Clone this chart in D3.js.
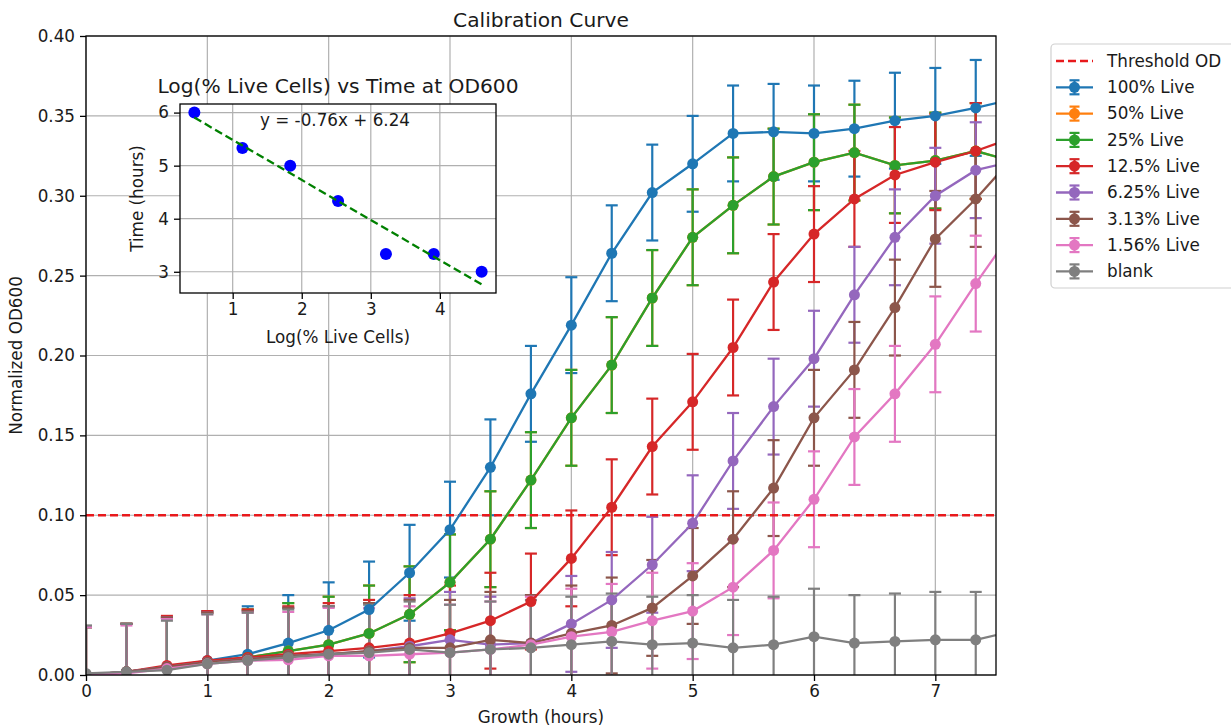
<!DOCTYPE html>
<html>
<head>
<meta charset="utf-8">
<script src="https://cdn.jsdelivr.net/npm/d3@7"></script>
<style>
  html, body { margin: 0; padding: 0; background: #fff; }
  svg { display: block; font-family: "DejaVu Sans", sans-serif; }
</style>
</head>
<body>
<svg id="chart" width="1231" height="727"></svg>
<script>
// ---------------- DATA ----------------
const times = [0, 0.333, 0.667, 1, 1.333, 1.667, 2, 2.333, 2.667, 3, 3.333, 3.667,
               4, 4.333, 4.667, 5, 5.333, 5.667, 6, 6.333, 6.667, 7, 7.333, 7.667];

const seriesNames = ["100% Live", "50% Live", "25% Live", "12.5% Live", "6.25% Live", "3.13% Live", "1.56% Live", "blank"];
const seriesColors = ["#1f77b4", "#ff7f0e", "#2ca02c", "#d62728", "#9467bd", "#8c564b", "#e377c2", "#7f7f7f"];

const live100 = [0.000, 0.002, 0.005, 0.009, 0.013, 0.020, 0.028, 0.041, 0.064, 0.091, 0.130, 0.176,
                 0.219, 0.264, 0.302, 0.320, 0.339, 0.340, 0.339, 0.342, 0.347, 0.350, 0.355, 0.361];
const live50  = [0.000, 0.002, 0.005, 0.008, 0.011, 0.015, 0.019, 0.026, 0.038, 0.058, 0.085, 0.122,
                 0.161, 0.194, 0.236, 0.274, 0.294, 0.312, 0.321, 0.327, 0.319, 0.322, 0.328, 0.321];
const live25  = [0.000, 0.002, 0.005, 0.008, 0.011, 0.015, 0.019, 0.026, 0.038, 0.058, 0.085, 0.122,
                 0.161, 0.194, 0.236, 0.274, 0.294, 0.312, 0.321, 0.327, 0.319, 0.322, 0.328, 0.321];
const live12  = [0.000, 0.002, 0.006, 0.009, 0.011, 0.013, 0.015, 0.017, 0.020, 0.026, 0.034, 0.046,
                 0.073, 0.105, 0.143, 0.171, 0.205, 0.246, 0.276, 0.298, 0.313, 0.321, 0.328, 0.337];
const live6   = [0.000, 0.002, 0.005, 0.008, 0.010, 0.012, 0.013, 0.015, 0.018, 0.022, 0.019, 0.020,
                 0.032, 0.047, 0.069, 0.095, 0.134, 0.168, 0.198, 0.238, 0.274, 0.300, 0.316, 0.322];
const live3   = [0.000, 0.002, 0.005, 0.008, 0.010, 0.012, 0.013, 0.015, 0.017, 0.017, 0.022, 0.020,
                 0.026, 0.031, 0.042, 0.062, 0.085, 0.117, 0.161, 0.191, 0.230, 0.273, 0.298, 0.326];
const live1   = [0.000, 0.001, 0.004, 0.007, 0.009, 0.0095, 0.012, 0.012, 0.013, 0.014, 0.016, 0.019,
                 0.024, 0.027, 0.034, 0.040, 0.055, 0.078, 0.110, 0.149, 0.176, 0.207, 0.245, 0.281];
const blank   = [0.001, 0.002, 0.003, 0.007, 0.009, 0.011, 0.013, 0.014, 0.016, 0.014, 0.016, 0.017,
                 0.019, 0.021, 0.019, 0.020, 0.017, 0.019, 0.024, 0.020, 0.021, 0.022, 0.022, 0.028];
const errBar  = [0.030, 0.030, 0.031, 0.031, 0.030, 0.030, 0.030, 0.030, 0.030, 0.030, 0.030, 0.030,
                 0.030, 0.030, 0.030, 0.030, 0.030, 0.030, 0.030, 0.030, 0.030, 0.030, 0.030, 0.030];
const seriesValues = [live100, live50, live25, live12, live6, live3, live1, blank];

const thresholdOD = 0.10;
const xTicks = [0, 1, 2, 3, 4, 5, 6, 7];
const yTicks = [0, 0.05, 0.10, 0.15, 0.20, 0.25, 0.30, 0.35, 0.40];

// inset data
const logLive = [0.445, 1.141, 1.833, 2.526, 3.219, 3.912, 4.605];
const timeAtOD = [6.0, 5.333, 5.0, 4.333, 3.333, 3.333, 3.0];
const insetXTicks = [1, 2, 3, 4];
const insetYTicks = [3, 4, 5, 6];
const equationText = "y = -0.76x + 6.24";

// ---------------- LAYOUT ----------------
const svg = d3.select("#chart");
const FS = 16.8;
const TXT = "#1a1a1a";
const plot = {l: 86, t: 36, r: 996, b: 675};
const x = d3.scaleLinear().domain([0, 7.5]).range([plot.l, plot.r]);
const y = d3.scaleLinear().domain([0, 0.40]).range([plot.b, plot.t]);

svg.append("rect").attr("width", 1231).attr("height", 727).attr("fill", "#fff");

// grid
const grid = svg.append("g");
grid.selectAll(".gx").data(xTicks).join("line")
  .attr("x1", d => x(d)).attr("x2", d => x(d)).attr("y1", plot.t).attr("y2", plot.b)
  .attr("stroke", "#b0b0b0").attr("stroke-width", 1.2);
grid.selectAll(".gy").data(yTicks).join("line")
  .attr("y1", d => y(d)).attr("y2", d => y(d)).attr("x1", plot.l).attr("x2", plot.r)
  .attr("stroke", "#b0b0b0").attr("stroke-width", 1.2);

// clip
svg.append("clipPath").attr("id", "clipMain").append("rect")
  .attr("x", plot.l).attr("y", plot.t).attr("width", plot.r - plot.l).attr("height", plot.b - plot.t);

const content = svg.append("g").attr("clip-path", "url(#clipMain)");
const capHalf = 6;
const lineGen = d3.line().x((d, i) => x(times[i])).y(d => y(d));

// error bars and caps (drawn below all data lines, like matplotlib)
const errLayer = content.append("g");
seriesValues.forEach((vals, si) => {
  const col = seriesColors[si];
  const g = errLayer.append("g");
  g.selectAll(".eb").data(vals).join("line")
    .attr("x1", (d, i) => x(times[i])).attr("x2", (d, i) => x(times[i]))
    .attr("y1", (d, i) => y(d - errBar[i])).attr("y2", (d, i) => y(d + errBar[i]))
    .attr("stroke", col).attr("stroke-width", 2.2);
  ["lo", "hi"].forEach(side => {
    g.selectAll(".cap" + side).data(vals).join("line")
      .attr("x1", (d, i) => x(times[i]) - capHalf).attr("x2", (d, i) => x(times[i]) + capHalf)
      .attr("y1", (d, i) => y(side === "hi" ? d + errBar[i] : d - errBar[i]))
      .attr("y2", (d, i) => y(side === "hi" ? d + errBar[i] : d - errBar[i]))
      .attr("stroke", col).attr("stroke-width", 2.2);
  });
});

// threshold
content.append("line")
  .attr("x1", plot.l).attr("x2", plot.r).attr("y1", y(thresholdOD)).attr("y2", y(thresholdOD))
  .attr("stroke", "#e8191c").attr("stroke-width", 2.3).attr("stroke-dasharray", "8,4");

// data lines + markers
seriesValues.forEach((vals, si) => {
  const col = seriesColors[si];
  const g = content.append("g");
  g.append("path").datum(vals).attr("d", lineGen)
    .attr("fill", "none").attr("stroke", col).attr("stroke-width", 2.3);
  g.selectAll("circle").data(vals).join("circle")
    .attr("cx", (d, i) => x(times[i])).attr("cy", d => y(d)).attr("r", 5.5)
    .attr("fill", col);
});

// spines
svg.append("rect").attr("x", plot.l).attr("y", plot.t)
  .attr("width", plot.r - plot.l).attr("height", plot.b - plot.t)
  .attr("fill", "none").attr("stroke", "#000").attr("stroke-width", 1.3);

// axes
const xAxis = svg.append("g").attr("transform", `translate(0,${plot.b})`)
  .call(d3.axisBottom(x).tickValues(xTicks).tickFormat(d3.format("d")).tickSize(6).tickPadding(4));
const yAxis = svg.append("g").attr("transform", `translate(${plot.l},0)`)
  .call(d3.axisLeft(y).tickValues(yTicks).tickFormat(d3.format(".2f")).tickSize(6).tickPadding(5));
[xAxis, yAxis].forEach(a => {
  a.select(".domain").remove();
  a.selectAll(".tick line").attr("stroke", "#000").attr("stroke-width", 1.3);
  a.selectAll(".tick text").attr("font-size", FS).attr("fill", TXT).attr("font-family", "DejaVu Sans");
});

// titles & labels
svg.append("text").attr("x", (plot.l + plot.r) / 2).attr("y", 27).attr("text-anchor", "middle")
  .attr("font-size", 20.2).attr("fill", TXT).text("Calibration Curve");
svg.append("text").attr("x", (plot.l + plot.r) / 2).attr("y", 723).attr("text-anchor", "middle")
  .attr("font-size", FS).attr("fill", TXT).text("Growth (hours)");
svg.append("text").attr("transform", `translate(22,${(plot.t + plot.b) / 2}) rotate(-90)`)
  .attr("text-anchor", "middle").attr("font-size", FS).attr("fill", TXT).text("Normalized OD600");

// ---------------- INSET ----------------
const ins = {l: 180, t: 104, r: 496, b: 293};
// fit from data (least squares)
const mx = d3.mean(logLive), my = d3.mean(timeAtOD);
const slope = d3.sum(logLive, (v, i) => (v - mx) * (timeAtOD[i] - my)) / d3.sum(logLive, v => (v - mx) * (v - mx));
const intercept = my - slope * mx;
const xExt = d3.extent(logLive);
const fitYs = xExt.map(v => slope * v + intercept);
const yAll = timeAtOD.concat(fitYs);
const yExt = d3.extent(yAll);
const padX = (xExt[1] - xExt[0]) * 0.05, padY = (yExt[1] - yExt[0]) * 0.05;
const ix = d3.scaleLinear().domain([xExt[0] - padX, xExt[1] + padX]).range([ins.l, ins.r]);
const iy = d3.scaleLinear().domain([yExt[0] - padY, yExt[1] + padY]).range([ins.b, ins.t]);

const ig = svg.append("g");
ig.append("rect").attr("x", ins.l).attr("y", ins.t).attr("width", ins.r - ins.l).attr("height", ins.b - ins.t)
  .attr("fill", "#fff");
ig.selectAll(".igx").data(insetXTicks).join("line")
  .attr("x1", d => ix(d)).attr("x2", d => ix(d)).attr("y1", ins.t).attr("y2", ins.b)
  .attr("stroke", "#b0b0b0").attr("stroke-width", 1.2);
ig.selectAll(".igy").data(insetYTicks).join("line")
  .attr("y1", d => iy(d)).attr("y2", d => iy(d)).attr("x1", ins.l).attr("x2", ins.r)
  .attr("stroke", "#b0b0b0").attr("stroke-width", 1.2);

svg.append("clipPath").attr("id", "clipInset").append("rect")
  .attr("x", ins.l).attr("y", ins.t).attr("width", ins.r - ins.l).attr("height", ins.b - ins.t);
const ic = ig.append("g").attr("clip-path", "url(#clipInset)");
ic.selectAll("circle").data(logLive).join("circle")
  .attr("cx", d => ix(d)).attr("cy", (d, i) => iy(timeAtOD[i])).attr("r", 6).attr("fill", "#0000ff");
ic.append("line")
  .attr("x1", ix(xExt[0])).attr("y1", iy(fitYs[0])).attr("x2", ix(xExt[1])).attr("y2", iy(fitYs[1]))
  .attr("stroke", "#008000").attr("stroke-width", 2.3).attr("stroke-dasharray", "8,4");

ig.append("rect").attr("x", ins.l).attr("y", ins.t).attr("width", ins.r - ins.l).attr("height", ins.b - ins.t)
  .attr("fill", "none").attr("stroke", "#000").attr("stroke-width", 1.3);

const ixAxis = ig.append("g").attr("transform", `translate(0,${ins.b})`)
  .call(d3.axisBottom(ix).tickValues(insetXTicks).tickFormat(d3.format("d")).tickSize(6).tickPadding(4));
const iyAxis = ig.append("g").attr("transform", `translate(${ins.l},0)`)
  .call(d3.axisLeft(iy).tickValues(insetYTicks).tickFormat(d3.format("d")).tickSize(6).tickPadding(5));
[ixAxis, iyAxis].forEach(a => {
  a.select(".domain").remove();
  a.selectAll(".tick line").attr("stroke", "#000").attr("stroke-width", 1.3);
  a.selectAll(".tick text").attr("font-size", FS).attr("fill", TXT).attr("font-family", "DejaVu Sans");
});

ig.append("text").attr("x", ins.l + (ins.r - ins.l) * 0.253).attr("y", ins.t + 22)
  .attr("font-size", FS).attr("fill", TXT).text(equationText);
ig.append("text").attr("x", (ins.l + ins.r) / 2).attr("y", 93).attr("text-anchor", "middle")
  .attr("font-size", 20.2).attr("fill", TXT).text("Log(% Live Cells) vs Time at OD600");
ig.append("text").attr("x", (ins.l + ins.r) / 2).attr("y", 343).attr("text-anchor", "middle")
  .attr("font-size", FS).attr("fill", TXT).text("Log(% Live Cells)");
ig.append("text").attr("transform", `translate(143,${(ins.t + ins.b) / 2}) rotate(-90)`)
  .attr("text-anchor", "middle").attr("font-size", FS).attr("fill", TXT).text("Time (hours)");

// ---------------- LEGEND ----------------
const lg = svg.append("g");
lg.append("rect").attr("x", 1051).attr("y", 44).attr("width", 200).attr("height", 244).attr("rx", 4)
  .attr("fill", "#fff").attr("stroke", "#d0d0d0").attr("stroke-width", 1.2);
const legItems = [{name: "Threshold OD", color: "#e8191c", dashed: true}]
  .concat(seriesNames.map((n, i) => ({name: n, color: seriesColors[i], dashed: false})));
const ly0 = 61, lstep = 26.3, hx0 = 1056, hx1 = 1093;
legItems.forEach((it, k) => {
  const yy = ly0 + k * lstep;
  const gI = lg.append("g");
  if (it.dashed) {
    gI.append("line").attr("x1", hx0).attr("x2", hx1).attr("y1", yy).attr("y2", yy)
      .attr("stroke", it.color).attr("stroke-width", 2.3).attr("stroke-dasharray", "8,4");
  } else {
    const cx = (hx0 + hx1) / 2;
    gI.append("line").attr("x1", cx).attr("x2", cx).attr("y1", yy - 7).attr("y2", yy + 7)
      .attr("stroke", it.color).attr("stroke-width", 2.2);
    [yy - 7, yy + 7].forEach(cy => gI.append("line").attr("x1", cx - 5).attr("x2", cx + 5)
      .attr("y1", cy).attr("y2", cy).attr("stroke", it.color).attr("stroke-width", 2.2));
    gI.append("line").attr("x1", hx0).attr("x2", hx1).attr("y1", yy).attr("y2", yy)
      .attr("stroke", it.color).attr("stroke-width", 2.3);
    gI.append("circle").attr("cx", cx).attr("cy", yy).attr("r", 5.5).attr("fill", it.color);
  }
  gI.append("text").attr("x", 1107).attr("y", yy).attr("dy", "0.35em")
    .attr("font-size", FS).attr("fill", TXT).text(it.name);
});
</script>
</body>
</html>
